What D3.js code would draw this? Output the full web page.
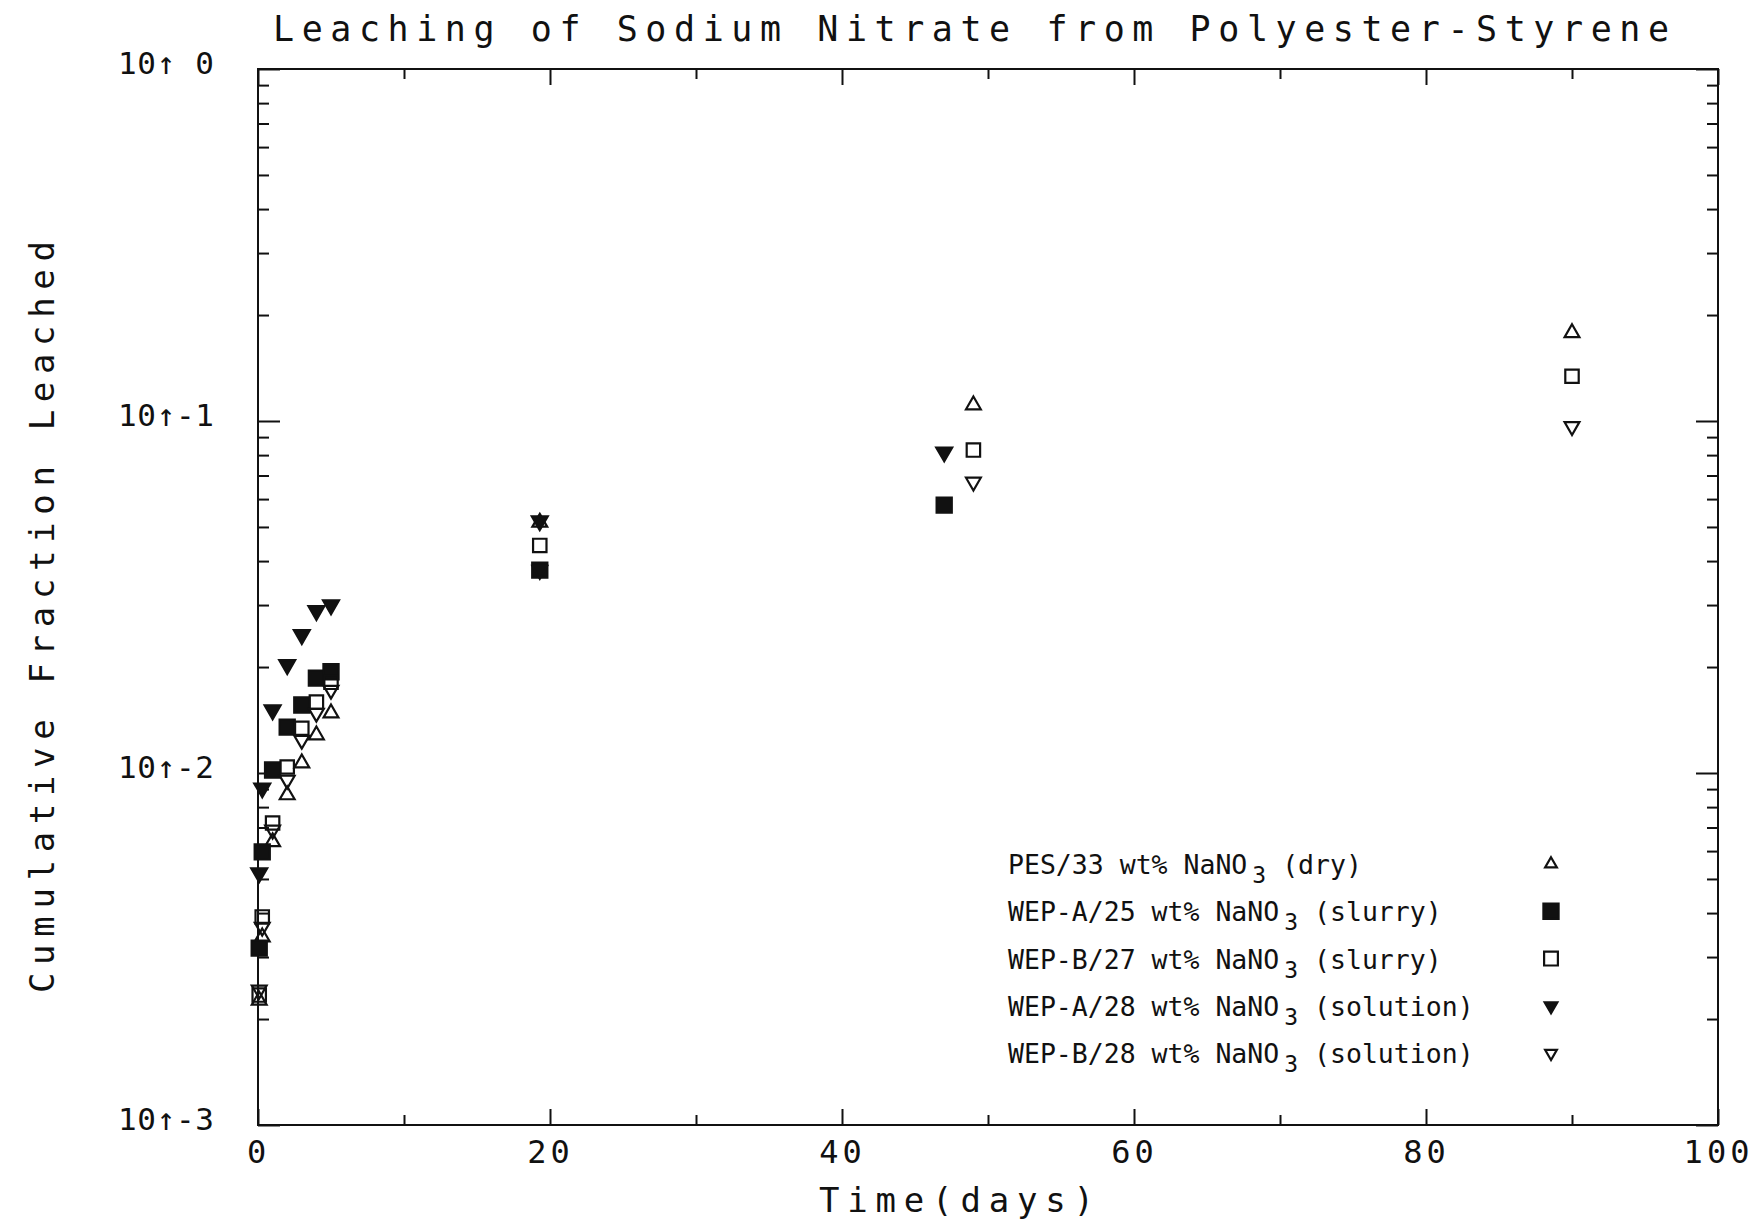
<!DOCTYPE html>
<html>
<head>
<meta charset="utf-8">
<script src="https://cdn.jsdelivr.net/npm/d3@7"></script>
<style>
  body { margin: 0; background: #fff; }
  svg { display: block; }
  .plotter { font-family: "DejaVu Sans Mono", monospace; fill: #111; }
  .legend { font-family: "DejaVu Sans Mono", monospace; fill: #111; }
</style>
</head>
<body>
<svg id="chart" width="1760" height="1222"></svg>
<script>
// series labels (legend order)
const seriesLabels = [
    ["PES/33 wt% NaNO", "3", " (dry)"],
    ["WEP-A/25 wt% NaNO", "3", " (slurry)"],
    ["WEP-B/27 wt% NaNO", "3", " (slurry)"],
    ["WEP-A/28 wt% NaNO", "3", " (solution)"],
    ["WEP-B/28 wt% NaNO", "3", " (solution)"]
];

// leach times (days) and cumulative fraction leached
const daysPES = [0.083, 0.29, 1, 2, 3, 4, 5, 19.3, 49, 90];
const fracPES = [0.00226, 0.00342, 0.00637, 0.00866, 0.01067, 0.01282, 0.0148, 0.0515, 0.111, 0.178];

const daysWEPA25 = [0.083, 0.29, 1, 2, 3, 4, 5, 19.3, 47];
const fracWEPA25 = [0.00318, 0.00597, 0.0102, 0.0135, 0.0156, 0.0186, 0.0194, 0.0377, 0.0577];

const daysWEPB27 = [0.083, 0.29, 1, 2, 3, 4, 5, 19.3, 49, 90];
const fracWEPB27 = [0.00234, 0.0039, 0.00721, 0.0104, 0.0134, 0.0159, 0.0181, 0.0443, 0.0827, 0.134];

const daysWEPA28 = [0.083, 0.29, 1, 2, 3, 4, 5, 19.3, 47];
const fracWEPA28 = [0.0052, 0.00906, 0.0151, 0.0203, 0.0247, 0.0289, 0.0300, 0.0520, 0.0816];

const daysWEPB28 = [0.083, 0.29, 1, 2, 3, 4, 5, 19.3, 49, 90];
const fracWEPB28 = [0.00242, 0.00365, 0.00689, 0.00955, 0.0124, 0.0148, 0.0172, 0.0377, 0.0671, 0.0965];

// axis ticks
const xMajor = [0, 20, 40, 60, 80, 100];
const xMinor = [10, 30, 50, 70, 90];
const yDecades = [1e-3, 1e-2, 1e-1, 1];
const yDecadeLabels = ["10\u2191-3", "10\u2191-2", "10\u2191-1", "10\u2191 0"];

const plotLeft = 258, plotRight = 1718, plotTop = 69, plotBottom = 1125;

const svg = d3.select("#chart");

const x = d3.scaleLinear().domain([0, 100]).range([plotLeft, plotRight]);
const y = d3.scaleLog().domain([1e-3, 1]).range([plotBottom, plotTop]);

// minor log ticks 2..9 per decade
let yMinor = [];
for (let k = -3; k < 0; k++) {
    for (let m = 2; m <= 9; m++) {
        yMinor.push(m * Math.pow(10, k));
    }
}

// frame
svg.append("rect")
    .attr("x", plotLeft)
    .attr("y", plotTop)
    .attr("width", plotRight - plotLeft)
    .attr("height", plotBottom - plotTop)
    .attr("fill", "none")
    .attr("stroke", "#111")
    .attr("stroke-width", 2);

function drawAxis(axis, tx, ty) {
    const g = svg.append("g")
        .attr("transform", "translate(" + tx + "," + ty + ")")
        .call(axis);
    g.select(".domain").remove();
    g.selectAll("line").attr("stroke", "#111").attr("stroke-width", 2);
    return g;
}

// bottom axis
const xAxisMajor = drawAxis(d3.axisBottom(x).tickValues(xMajor).tickSizeInner(-16).tickSizeOuter(0).tickPadding(15), 0, plotBottom);
xAxisMajor.selectAll("text")
    .attr("class", "plotter")
    .attr("font-size", 32)
    .attr("letter-spacing", 4)
    .attr("fill", "#111");
drawAxis(d3.axisBottom(x).tickValues(xMinor).tickSizeInner(-10).tickSizeOuter(0).tickFormat(""), 0, plotBottom);

// top axis (ticks only)
drawAxis(d3.axisTop(x).tickValues(xMajor).tickSizeInner(-16).tickSizeOuter(0).tickFormat(""), 0, plotTop);
drawAxis(d3.axisTop(x).tickValues(xMinor).tickSizeInner(-10).tickSizeOuter(0).tickFormat(""), 0, plotTop);

// left axis
const yAxisMajor = drawAxis(d3.axisLeft(y).tickValues(yDecades).tickSizeInner(-22).tickSizeOuter(0).tickPadding(44)
    .tickFormat((d, i) => yDecadeLabels[i]), plotLeft, 0);
yAxisMajor.selectAll("text")
    .attr("class", "plotter")
    .attr("font-size", 31)
    .attr("textLength", 96)
    .attr("lengthAdjust", "spacing")
    .attr("y", -5)
    .attr("fill", "#111");
drawAxis(d3.axisLeft(y).tickValues(yMinor).tickSizeInner(-11).tickSizeOuter(0).tickFormat(""), plotLeft, 0);

// right axis (ticks only)
drawAxis(d3.axisRight(y).tickValues(yDecades).tickSizeInner(-22).tickSizeOuter(0).tickFormat(""), plotRight, 0);
drawAxis(d3.axisRight(y).tickValues(yMinor).tickSizeInner(-11).tickSizeOuter(0).tickFormat(""), plotRight, 0);

// title and axis labels
svg.append("text")
    .attr("class", "plotter")
    .attr("x", 273)
    .attr("y", 41)
    .attr("font-size", 35)
    .attr("textLength", 1396)
    .attr("lengthAdjust", "spacing")
    .text("Leaching of Sodium Nitrate from Polyester-Styrene");

svg.append("text")
    .attr("class", "plotter")
    .attr("x", 819)
    .attr("y", 1212)
    .attr("font-size", 34)
    .attr("textLength", 275)
    .attr("lengthAdjust", "spacing")
    .text("Time(days)");

svg.append("text")
    .attr("class", "plotter")
    .attr("transform", "translate(54,993) rotate(-90)")
    .attr("font-size", 34)
    .attr("textLength", 752)
    .attr("lengthAdjust", "spacing")
    .text("Cumulative Fraction Leached");

// markers
const triUp = d3.symbol().type(d3.symbolTriangle).size(95);
const triDown = d3.symbol().type(d3.symbolTriangle).size(110);
const sqFilled = d3.symbol().type(d3.symbolSquare).size(230);
const sqOpen = d3.symbol().type(d3.symbolSquare).size(180);

const series = [
    { days: daysPES, frac: fracPES, path: triUp, rot: 0, fill: "#fff" },
    { days: daysWEPA25, frac: fracWEPA25, path: sqFilled, rot: 0, fill: "#111" },
    { days: daysWEPB27, frac: fracWEPB27, path: sqOpen, rot: 0, fill: "#fff" },
    { days: daysWEPA28, frac: fracWEPA28, path: triDown, rot: 180, fill: "#111" },
    { days: daysWEPB28, frac: fracWEPB28, path: triUp, rot: 180, fill: "#fff" }
];

for (const s of series) {
    const pts = s.days.map((d, i) => [d, s.frac[i]]);
    svg.append("g")
        .selectAll("path")
        .data(pts)
        .join("path")
        .attr("d", s.path())
        .attr("transform", d => "translate(" + x(d[0]) + "," + y(d[1]) + ") rotate(" + s.rot + ")")
        .attr("fill", s.fill)
        .attr("fill-opacity", s.fill === "#fff" ? 0 : 1)
        .attr("stroke", "#111")
        .attr("stroke-width", 2.2);
}

// legend
const legendSymbols = [
    { path: d3.symbol().type(d3.symbolTriangle).size(60), rot: 0, fill: "none" },
    { path: d3.symbol().type(d3.symbolSquare).size(230), rot: 0, fill: "#111" },
    { path: d3.symbol().type(d3.symbolSquare).size(190), rot: 0, fill: "none" },
    { path: d3.symbol().type(d3.symbolTriangle).size(70), rot: 180, fill: "#111" },
    { path: d3.symbol().type(d3.symbolTriangle).size(60), rot: 180, fill: "none" }
];

seriesLabels.forEach((lab, i) => {
    const rowY = 864 + i * 47.3;
    const t = svg.append("text")
        .attr("class", "legend")
        .attr("x", 1008)
        .attr("y", rowY + 10)
        .attr("font-size", 26.5);
    t.append("tspan").text(lab[0]);
    t.append("tspan").attr("dx", 5).attr("dy", 9).attr("font-size", 23).text(lab[1]);
    t.append("tspan").attr("dy", -9).text(lab[2]);

    const sym = legendSymbols[i];
    svg.append("path")
        .attr("d", sym.path())
        .attr("transform", "translate(1551," + rowY + ") rotate(" + sym.rot + ")")
        .attr("fill", sym.fill)
        .attr("stroke", "#111")
        .attr("stroke-width", 2.2);
});
</script>
</body>
</html>
